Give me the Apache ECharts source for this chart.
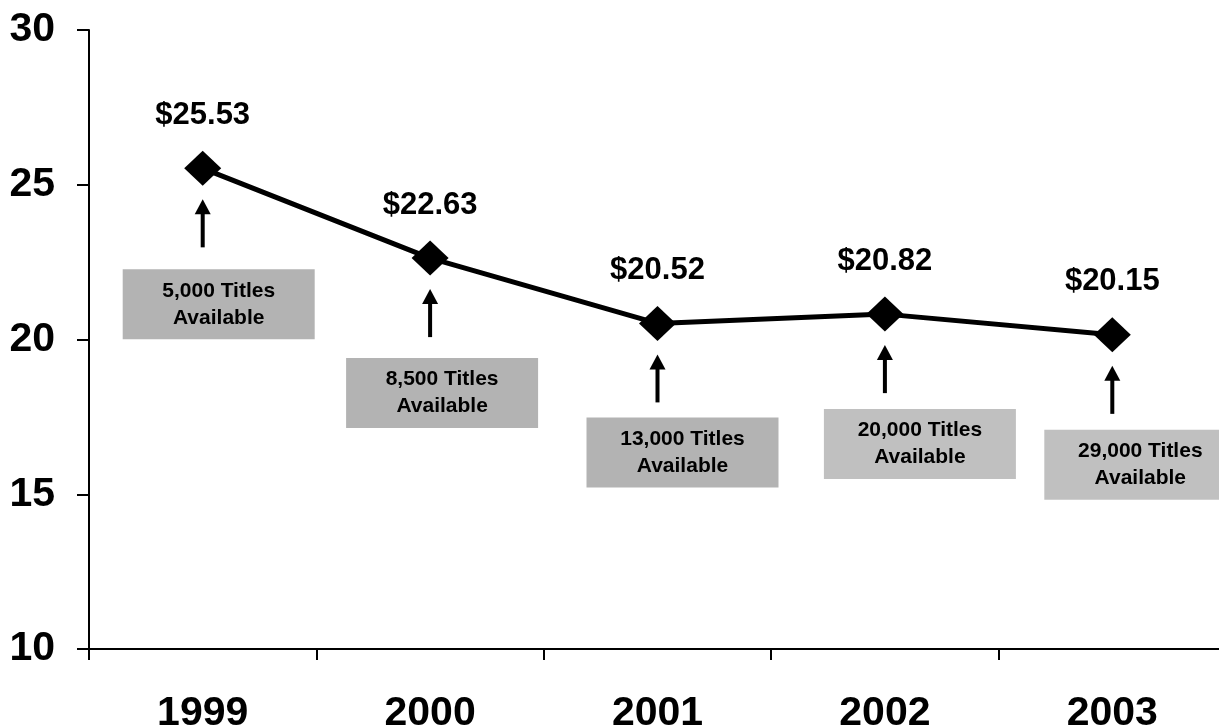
<!DOCTYPE html>
<html>
<head>
<meta charset="utf-8">
<script src="https://cdn.jsdelivr.net/npm/echarts@6/dist/echarts.min.js"></script>
<style>
  html, body { margin: 0; padding: 0; background: #fff; }
  #main { width: 1219px; height: 727px; }
</style>
</head>
<body>
<div id="main"></div>
<script>
// data
const years = ['1999', '2000', '2001', '2002', '2003']
const avgPrice = [25.53, 22.63, 20.52, 20.82, 20.15]
const titles = ['5,000 Titles', '8,500 Titles', '13,000 Titles', '20,000 Titles', '29,000 Titles']
const yTicks = [10, 15, 20, 25, 30]

// note box offsets from the data point (px), and fill
const noteDx = [-80, -84, -71, -61, -68]
const noteDy = [101, 100, 94, 95, 95]
const noteFill = ['#b3b3b3', '#b3b3b3', '#b3b3b3', '#c0c0c0', '#c0c0c0']

const FONT = '"Liberation Sans", Arial, sans-serif'

const chart = echarts.init(document.getElementById('main'))

chart.setOption({
  animation: false,
  // plot area runs a few px past the right edge, like the original
  grid: { left: 89, top: 30, width: 1137, height: 619, outerBoundsMode: 'none' },
  xAxis: {
    type: 'category',
    data: years,
    axisLine: { lineStyle: { color: '#000', width: 2 } },
    axisTick: { show: true, length: 11, lineStyle: { color: '#000', width: 2 } },
    axisLabel: {
      color: '#000', fontSize: 41, fontWeight: 'bold', fontFamily: FONT, margin: 44,
    },
  },
  yAxis: {
    type: 'value',
    min: yTicks[0],
    max: yTicks[yTicks.length - 1],
    interval: 5,
    splitLine: { show: false },
    axisLine: { show: true, lineStyle: { color: '#000', width: 2 } },
    axisTick: { show: true, length: 12, lineStyle: { color: '#000', width: 2 } },
    axisLabel: {
      color: '#000', fontSize: 41, fontWeight: 'bold', fontFamily: FONT, margin: 34,
    },
  },
  series: [
    {
      type: 'line',
      data: avgPrice,
      symbol: 'diamond',
      symbolSize: [37, 35],
      lineStyle: { color: '#000', width: 5 },
      itemStyle: { color: '#000' },
      label: {
        show: true,
        position: 'top',
        distance: 20,
        color: '#000',
        fontSize: 31,
        fontWeight: 'bold',
        fontFamily: FONT,
        formatter: (p) => '$' + p.value.toFixed(2),
      },
    },
  ],
})

// arrows + grey note boxes, placed from the data points
function drawNotes() {
  const els = []
  years.forEach((yr, i) => {
    const [cx, cy] = chart.convertToPixel({ seriesIndex: 0 }, [i, avgPrice[i]])
    const top = cy + 31
    const bot = cy + 79
    els.push({
      type: 'rect',
      shape: { x: cx - 2, y: top + 12, width: 4, height: bot - top - 12 },
      style: { fill: '#000' },
    })
    els.push({
      type: 'polygon',
      shape: { points: [[cx, top], [cx - 8, top + 15], [cx + 8, top + 15]] },
      style: { fill: '#000' },
    })
    const bx = cx + noteDx[i]
    const by = cy + noteDy[i]
    els.push({
      type: 'rect',
      shape: { x: bx, y: by, width: 192, height: 70 },
      style: { fill: noteFill[i] },
    })
    els.push({
      type: 'text',
      x: bx + 96,
      y: by + 35,
      style: {
        text: titles[i] + '\nAvailable',
        fill: '#000',
        font: 'bold 21px ' + FONT,
        align: 'center',
        verticalAlign: 'middle',
        lineHeight: 27,
      },
    })
  })
  chart.setOption({ graphic: els })
}
drawNotes()
</script>
</body>
</html>
